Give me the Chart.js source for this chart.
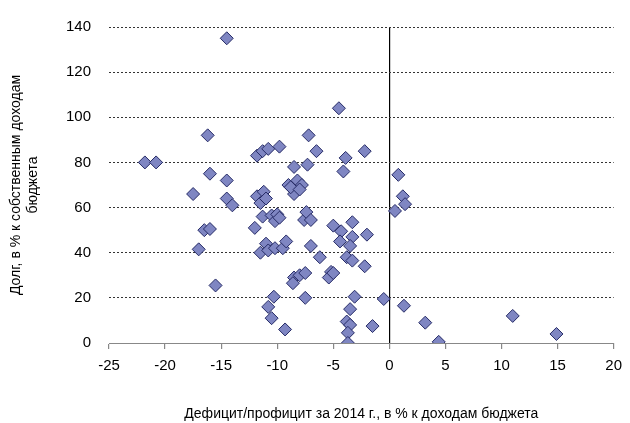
<!DOCTYPE html>
<html><head><meta charset="utf-8">
<script src="https://cdn.jsdelivr.net/npm/chart.js@4"></script>
<style>html,body{margin:0;padding:0;background:#fff}#w{width:630px;height:423px}</style>
</head><body><div id="w"><canvas id="c"></canvas></div>
<script>
const deficit = [-21.8,-20.8,-14.5,-16.2,-16,-17.5,-14.5,-14.5,-14,-16.5,-16,-17,-15.5,
-11.8,-11.3,-10.8,-9.8,-11.8,-11.5,-11.2,-11,-12,-11.3,-10.5,-10.2,-10,-11.5,-11,-10.8,-10.2,-9.5,-9.2,-9.8,-10.3,-10.8,-10.5,-9.3,
-7.2,-6.5,-7.3,-8.5,-8.2,-8.5,-9,-7.8,-8.8,-8,-7.6,-7.4,-7,-6.2,-7,-8.5,-8.6,-8,-7.5,-7.5,
-4.5,-3.9,-2.2,-4.1,-5,-4.3,-4.4,-3.3,-3.3,-2,-3.5,-3.8,-3.3,-2.2,-5.2,-5.4,-5,
-3.1,-3.5,-3.8,-3.5,-3.7,-3.7,-1.5,-0.5,0.5,0.8,1.2,1.4,1.3,3.2,4.4,11,14.9];
const debt = [80,80,135,92,75,66,72,64,61,50,50.5,41.5,25.5,
83,85,86,87,65,62,67,64,51,56,56.5,54,57,40,44,41,42,42,45,55.5,20.5,16,11,6,
92,85,79,78,72,66,70,70,69,68,54.5,58,54.5,38,43,29,26.5,30,31,20,
104,82,85,76,52,49.5,45,53.5,47,48,43,38,36.5,34,31.5,29,31,
20.5,15,9.5,8,4.5,0,7.5,19.5,58.5,74.5,65,61.5,16.5,9,0.5,12,4];
const pts = deficit.map((x,i)=>({x, y: debt[i]}));
const F = "'Liberation Sans', Arial, sans-serif";
new Chart(document.getElementById('c'), {
  type: 'scatter',
  data: { datasets: [{ data: pts, pointStyle: 'rectRot', pointRadius: 6.5,
    backgroundColor: '#7f86c2', borderColor: '#262b66', borderWidth: 1 }] },
  options: {
    responsive: true, maintainAspectRatio: false, animation: false,
    layout: { padding: { top: 15, right: 10, left: 4, bottom: 0 } },
    plugins: { legend: { display: false }, tooltip: { enabled: false } },
    scales: {
      x: { min: -25, max: 20, afterFit: s => { s.height = 80; },
        ticks: { stepSize: 5, color: '#000', font: { family: F, size: 15 }, padding: 8 },
        grid: { color: c => c.tick && c.tick.value === 0 ? '#000' : 'rgba(0,0,0,0)', lineWidth: 1.2, tickColor: '#888', tickLength: 6 },
        border: { display: true, color: '#888' },
        title: { display: true, text: 'Дефицит/профицит за 2014 г., в % к доходам бюджета', color: '#000', font: { family: F, size: 14 }, padding: { top: 22, bottom: 0 } } },
      y: { min: 0, max: 140, afterFit: s => { s.width = 105; },
        ticks: { stepSize: 20, color: '#000', font: { family: F, size: 15 }, padding: 18 },
        grid: { color: '#333', borderDash: [2,2], lineWidth: 1, drawTicks: false },
        border: { display: false, dash: [2,2] },
        title: { display: true, text: ['Долг, в % к собственным доходам', 'бюджета'], color: '#000', font: { family: F, size: 14 }, padding: { bottom: 6 } } }
    }
  }
});
</script></body></html>
